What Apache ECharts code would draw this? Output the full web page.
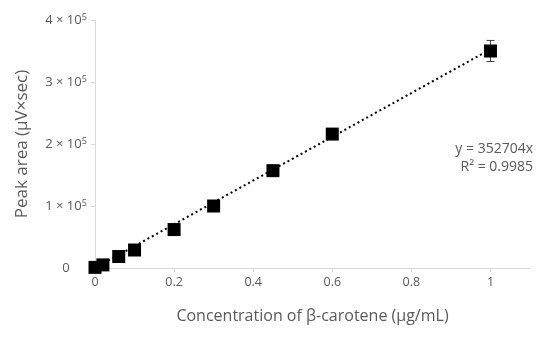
<!DOCTYPE html>
<html>
<head>
<meta charset="utf-8">
<script src="https://cdn.jsdelivr.net/npm/echarts@6/dist/echarts.min.js"></script>
<style>html,body{margin:0;padding:0;background:#fff}#c{width:550px;height:338px}</style>
</head>
<body>
<div id="c"></div>
<script>
// Data
const concentrations = [0, 0.02, 0.06, 0.1, 0.2, 0.3, 0.45, 0.6, 1.0];
const peakAreas = [1000, 5000, 18500, 29000, 62000, 100000, 157000, 216000, 350000];
const errors = [1000, 1500, 2000, 2000, 3000, 3000, 3000, 6500, 17000];
const trendX = [0, 1];
const trendY = [0, 352704];
const xTickValues = [0, 0.2, 0.4, 0.6, 0.8, 1];
const xTickLabels = ['0', '0.2', '0.4', '0.6', '0.8', '1'];
const yTickMantissas = ['0', '1', '2', '3', '4'];
const yTickExponent = '5';
const equationText = 'y = 352704x';
const r2Text = 'R² = 0.9985';

const FONT = '"Open Sans", "DejaVu Sans", sans-serif';
const GRAY = '#595959';
const AXIS = '#d9d9d9';

const chart = echarts.init(document.getElementById('c'));
chart.setOption({
  animation: false,
  backgroundColor: '#fff',
  grid: { left: 95, right: 20, top: 20, bottom: 70 },
  xAxis: {
    type: 'value', min: 0, max: 1.1, interval: 0.2,
    name: 'Concentration of β-carotene (µg/mL)',
    nameLocation: 'middle', nameGap: 40,
    nameTextStyle: { color: GRAY, fontSize: 16, fontFamily: FONT },
    splitLine: { show: false },
    axisLine: { lineStyle: { color: AXIS, width: 1 } },
    axisTick: { show: true, length: 4, lineStyle: { color: AXIS }, customValues: xTickValues },
    axisLabel: {
      color: GRAY, fontSize: 12.5, fontFamily: FONT, margin: 8,
      customValues: xTickValues,
      formatter: v => { const i = xTickValues.findIndex(t => Math.abs(t - v) < 1e-9); return i >= 0 ? xTickLabels[i] : ''; }
    }
  },
  yAxis: {
    type: 'value', min: 0, max: 400000, interval: 100000,
    name: 'Peak area (µV×sec)',
    nameLocation: 'middle', nameGap: 64,
    nameTextStyle: { color: GRAY, fontSize: 17, fontFamily: FONT },
    splitLine: { show: false },
    axisLine: { show: true, lineStyle: { color: AXIS, width: 1 } },
    axisTick: { show: true, length: 4, lineStyle: { color: AXIS } },
    axisLabel: {
      color: GRAY, fontSize: 13, fontFamily: FONT, margin: 29, align: 'center',
      formatter: v => {
        const i = Math.round(v / 100000);
        return i === 0 ? '{a|0}' : '{a|' + yTickMantissas[i] + ' × 10}{s|' + yTickExponent + '}';
      },
      rich: {
        a: { color: GRAY, fontSize: 13, fontFamily: FONT },
        s: { color: GRAY, fontSize: 9, fontFamily: FONT, verticalAlign: 'bottom', padding: [0, 0, 6, 0] }
      }
    }
  },
  series: [
    {
      type: 'line', data: trendX.map((x, i) => [x, trendY[i]]),
      showSymbol: false, symbol: 'none',
      lineStyle: { color: '#000', width: 2, type: [2, 3] }, z: 1
    },
    {
      type: 'custom', z: 2,
      data: concentrations.map((x, i) => [x, peakAreas[i], errors[i]]),
      renderItem: (params, api) => {
        const x = api.value(0), y = api.value(1), e = api.value(2);
        const top = api.coord([x, y + e]);
        const bot = api.coord([x, y - e]);
        const hw = 4;
        const st = { stroke: '#404040', lineWidth: 1 };
        return {
          type: 'group', children: [
            { type: 'line', shape: { x1: top[0], y1: top[1], x2: bot[0], y2: bot[1] }, style: st },
            { type: 'line', shape: { x1: top[0] - hw, y1: top[1], x2: top[0] + hw, y2: top[1] }, style: st },
            { type: 'line', shape: { x1: bot[0] - hw, y1: bot[1], x2: bot[0] + hw, y2: bot[1] }, style: st }
          ]
        };
      }
    },
    {
      type: 'scatter', z: 3,
      data: concentrations.map((x, i) => [x, peakAreas[i]]),
      symbol: 'rect', symbolSize: 13,
      itemStyle: { color: '#000', opacity: 1 }
    }
  ],
  graphic: [
    { type: 'text', right: 17, top: 142, style: { text: equationText, fill: GRAY, font: '14px ' + FONT, textAlign: 'right' } },
    { type: 'text', right: 17, top: 160, style: { text: r2Text, fill: GRAY, font: '14px ' + FONT, textAlign: 'right' } }
  ]
});
</script>
</body>
</html>
